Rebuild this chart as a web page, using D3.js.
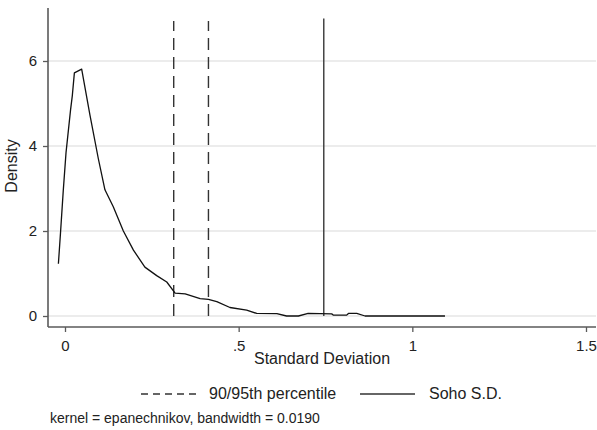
<!DOCTYPE html>
<html>
<head>
<meta charset="utf-8">
<script src="https://cdn.jsdelivr.net/npm/d3@7"></script>
<style>
  body { margin: 0; background: #fff; }
  svg { display: block; font-family: "Liberation Sans", Arial, sans-serif; }
</style>
</head>
<body>
<svg id="chart" width="597" height="430"></svg>
<script>
// ---- data ----
const densityX = [-0.019, -0.013, -0.005, 0.003, 0.016, 0.021, 0.027, 0.048, 0.072, 0.096, 0.115, 0.139, 0.168, 0.197, 0.230, 0.264, 0.293, 0.317, 0.346, 0.389, 0.413, 0.437, 0.475, 0.523, 0.552, 0.610, 0.638, 0.672, 0.700, 0.768, 0.773, 0.811, 0.816, 0.840, 0.864, 1.094];
const densityY = [1.23, 1.95, 2.95, 3.85, 4.85, 5.18, 5.72, 5.81, 4.72, 3.70, 2.97, 2.57, 2.00, 1.55, 1.15, 0.95, 0.80, 0.54, 0.52, 0.41, 0.39, 0.34, 0.20, 0.14, 0.06, 0.055, 0.0, 0.0, 0.06, 0.05, 0.02, 0.02, 0.06, 0.06, 0.0, 0.0];
const percentileLines = [0.313, 0.413];
const sohoSD = [0.745];
const vlineTop = 7.0;
const xTicks = [0, 0.5, 1, 1.5];
const xTickLabels = ["0", ".5", "1", "1.5"];
const yTicks = [0, 2, 4, 6];
const yTickLabels = ["0", "2", "4", "6"];
const xTitle = "Standard Deviation";
const yTitle = "Density";
const legendLabels = ["90/95th percentile", "Soho S.D."];
const note = "kernel = epanechnikov, bandwidth = 0.0190";

// ---- layout ----
const svg = d3.select("#chart");
const plot = { left: 48, right: 596, top: 8, bottom: 327 };
const x = d3.scaleLinear().domain([0, 1.5]).range([65, 586]);
const y = d3.scaleLinear().domain([0, 6]).range([316, 61]);

// gridlines
svg.append("g").selectAll("line").data(yTicks).join("line")
  .attr("x1", plot.left).attr("x2", plot.right)
  .attr("y1", d => y(d)).attr("y2", d => y(d))
  .attr("stroke", "#e6e6e6").attr("stroke-width", 1.3);

// y axis
const yAxis = svg.append("g").attr("transform", `translate(${plot.left},0)`)
  .call(d3.axisLeft(y).tickValues(yTicks).tickFormat((d, i) => yTickLabels[i]).tickSize(5).tickPadding(6));
yAxis.select(".domain").attr("d", `M0,${plot.top}V${plot.bottom}`).attr("stroke", "#5a5a5a").attr("stroke-width", 1.6);
yAxis.selectAll(".tick line").attr("stroke", "#5a5a5a").attr("stroke-width", 1.3);
yAxis.selectAll(".tick text").attr("font-size", 15).attr("fill", "#222").attr("font-family", "Liberation Sans, Arial, sans-serif");

// x axis
const xAxis = svg.append("g").attr("transform", `translate(0,${plot.bottom})`)
  .call(d3.axisBottom(x).tickValues(xTicks).tickFormat((d, i) => xTickLabels[i]).tickSize(5).tickPadding(8));
xAxis.select(".domain").attr("d", `M${plot.left},0H${plot.right}`).attr("stroke", "#5a5a5a").attr("stroke-width", 1.6);
xAxis.selectAll(".tick line").attr("stroke", "#5a5a5a").attr("stroke-width", 1.3);
xAxis.selectAll(".tick text").attr("font-size", 15).attr("fill", "#222").attr("font-family", "Liberation Sans, Arial, sans-serif");

// vertical reference lines
svg.append("g").selectAll("line").data(percentileLines).join("line")
  .attr("x1", d => x(d)).attr("x2", d => x(d))
  .attr("y1", y(0)).attr("y2", y(vlineTop - 0.06))
  .attr("stroke", "#333").attr("stroke-width", 1.4)
  .attr("stroke-dasharray", "12,7");
svg.append("g").selectAll("line").data(sohoSD).join("line")
  .attr("x1", d => x(d)).attr("x2", d => x(d))
  .attr("y1", y(0)).attr("y2", y(vlineTop))
  .attr("stroke", "#444").attr("stroke-width", 1.5);

// density curve
const pts = densityX.map((d, i) => [d, densityY[i]]);
svg.append("path").datum(pts)
  .attr("fill", "none").attr("stroke", "#111").attr("stroke-width", 1.3)
  .attr("stroke-linejoin", "round")
  .attr("d", d3.line().x(d => x(d[0])).y(d => y(d[1])));

// axis titles
svg.append("text").attr("x", 322).attr("y", 364).attr("text-anchor", "middle")
  .attr("font-size", 16).attr("fill", "#222").text(xTitle);
svg.append("text").attr("transform", "translate(17,166) rotate(-90)").attr("text-anchor", "middle")
  .attr("font-size", 16).attr("fill", "#222").text(yTitle);

// legend
const legY = 399;
svg.append("line").attr("x1", 141).attr("x2", 198).attr("y1", legY - 5).attr("y2", legY - 5)
  .attr("stroke", "#333").attr("stroke-width", 1.3).attr("stroke-dasharray", "7,5");
svg.append("text").attr("x", 209).attr("y", legY).attr("font-size", 16).attr("fill", "#222").text(legendLabels[0]);
svg.append("line").attr("x1", 360).attr("x2", 415).attr("y1", legY - 5).attr("y2", legY - 5)
  .attr("stroke", "#333").attr("stroke-width", 1.3);
svg.append("text").attr("x", 429).attr("y", legY).attr("font-size", 16).attr("fill", "#222").text(legendLabels[1]);

// note
svg.append("text").attr("x", 50).attr("y", 423).attr("font-size", 14).attr("fill", "#222").text(note);
</script>
</body>
</html>
